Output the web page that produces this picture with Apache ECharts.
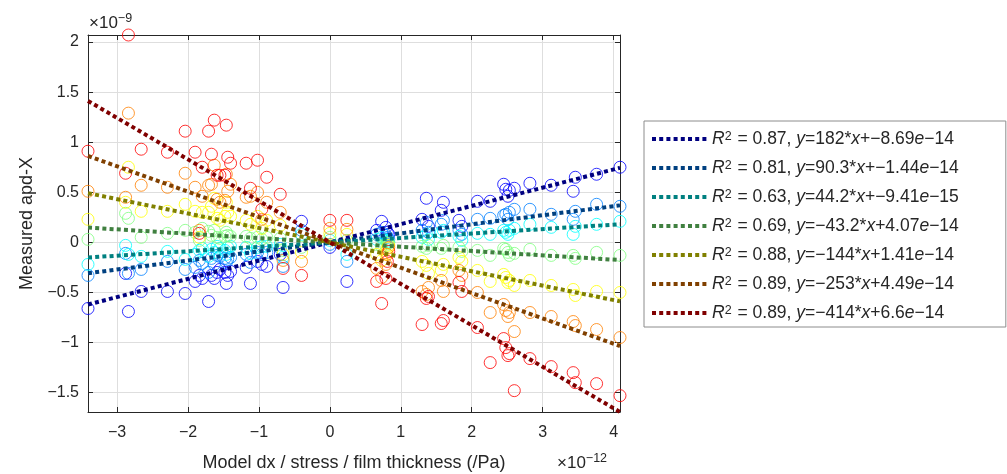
<!DOCTYPE html>
<html>
<head>
<meta charset="utf-8">
<script src="https://cdn.jsdelivr.net/npm/echarts@6/dist/echarts.min.js"></script>
<style>
html, body { margin: 0; padding: 0; background: #ffffff; }
#chart { width: 1007px; height: 474px; }
</style>
</head>
<body>
<div id="chart"></div>
<script>
// Model displacement per stress per film thickness, in units of 1e-12 /Pa
const modelX = [
  -3.41, -2.88, -2.84, -2.66, -2.29, -2.04, -1.90, -1.84, -1.80, -1.71,
  -1.67, -1.63, -1.59, -1.55, -1.48, -1.46, -1.44, -1.40, -1.18, -1.12,
  -1.02, -0.96, -0.89, -0.70, -0.66, -0.40, 0.00, 0.24, 0.66, 0.73,
  0.79, 0.81, 0.83, 1.30, 1.36, 1.39, 1.57, 1.60, 1.82, 1.86,
  2.08, 2.26, 2.45, 2.48, 2.51, 2.53, 2.60, 2.82, 3.12, 3.43,
  3.46, 3.76, 4.09
];

// Measured apd-X, in units of 1e-9, one array per group
const measBlue = [
  -0.66, -0.31, -0.69, -0.49, -0.49, -0.51, -0.39, -0.33, -0.36, -0.59,
  -0.33, -0.36, -0.30, -0.27, -0.30, -0.41, -0.33, -0.29, -0.25, -0.41,
  -0.19, -0.22, -0.24, -0.12, -0.45, 0.21, -0.05, -0.39, 0.12, 0.21,
  0.15, 0.10, 0.08, 0.23, 0.44, 0.16, 0.32, 0.40, 0.22, 0.16,
  0.41, 0.41, 0.58, 0.53, 0.46, 0.52, 0.54, 0.59, 0.57, 0.51,
  0.65, 0.68, 0.75
];
const measAzure = [
  -0.33, -0.11, -0.31, -0.27, -0.19, -0.27, -0.25, -0.18, -0.21, -0.30,
  -0.16, -0.22, -0.13, -0.14, -0.16, -0.20, -0.17, -0.15, -0.12, -0.20,
  -0.10, -0.12, -0.10, -0.06, -0.24, 0.12, -0.02, -0.19, 0.08, 0.10,
  0.07, 0.05, 0.03, 0.12, 0.20, 0.10, 0.18, 0.22, 0.12, 0.08,
  0.23, 0.24, 0.27, 0.28, 0.23, 0.30, 0.33, 0.33, 0.28, 0.23,
  0.31, 0.38, 0.36
];
const measCyan = [
  -0.22, -0.03, -0.12, -0.14, -0.09, -0.17, -0.12, -0.08, -0.06, -0.14,
  -0.07, -0.10, -0.04, -0.06, -0.08, -0.12, -0.05, -0.04, -0.05, -0.11,
  -0.05, -0.04, -0.04, -0.02, -0.15, 0.08, 0.02, -0.12, 0.03, 0.05,
  0.02, 0.01, 0.00, 0.05, 0.08, 0.03, 0.10, 0.12, 0.06, 0.02,
  0.09, 0.08, 0.12, 0.10, 0.08, 0.12, 0.14, 0.18, 0.15, 0.08,
  0.16, 0.18, 0.21
];
const measGreen = [
  0.03, 0.29, 0.24, 0.05, 0.09, 0.12, 0.10, 0.02, 0.14, 0.11,
  0.07, 0.12, 0.05, 0.04, 0.06, 0.10, 0.07, 0.06, 0.06, 0.04,
  0.05, 0.03, 0.05, 0.04, -0.08, -0.05, 0.05, 0.02, -0.02, -0.04,
  -0.03, -0.01, 0.00, -0.04, -0.06, -0.03, -0.06, -0.03, -0.05, -0.09,
  -0.08, -0.13, -0.06, -0.07, -0.10, -0.13, -0.11, -0.07, -0.13, -0.13,
  -0.16, -0.10, -0.13
];
const measYellow = [
  0.23, 0.40, 0.75, 0.31, 0.31, 0.38, 0.31, 0.05, 0.30, 0.30,
  0.36, 0.44, 0.24, 0.22, 0.26, 0.40, 0.30, 0.26, 0.22, 0.18,
  0.26, 0.14, 0.22, 0.17, -0.12, -0.10, 0.09, 0.08, -0.12, -0.18,
  -0.12, -0.06, -0.03, -0.19, -0.23, -0.31, -0.28, -0.22, -0.15, -0.19,
  -0.28, -0.39, -0.32, -0.35, -0.40, -0.38, -0.43, -0.38, -0.43, -0.47,
  -0.53, -0.49, -0.50
];
const measOrange = [
  0.51, 0.45, 1.29, 0.57, 0.55, 0.69, 0.55, 0.12, 0.46, 0.57,
  0.58, 0.77, 0.43, 0.40, 0.42, 0.68, 0.51, 0.58, 0.45, 0.46,
  0.50, 0.23, 0.40, 0.30, -0.18, -0.19, 0.14, 0.13, -0.26, -0.35,
  -0.22, -0.12, -0.05, -0.49, -0.52, -0.45, -0.38, -0.49, -0.28, -0.33,
  -0.50, -0.70, -0.62, -0.68, -0.74, -0.70, -0.89, -0.70, -0.74, -0.79,
  -0.83, -0.87, -0.95
];
const measRed = [
  0.91, 0.69, 2.07, 0.93, 0.90, 1.11, 0.90, 0.09, 0.75, 1.11,
  0.88, 1.22, 0.67, 0.67, 0.67, 1.17, 0.85, 0.79, 0.79, 0.54,
  0.82, 0.33, 0.65, 0.48, -0.26, -0.33, 0.22, 0.22, -0.39, -0.61,
  -0.36, -0.19, -0.09, -0.82, -0.56, -0.54, -0.81, -0.78, -0.40, -0.49,
  -0.85, -1.20, -0.96, -1.05, -1.13, -1.11, -1.48, -1.16, -1.24, -1.30,
  -1.40, -1.41, -1.53
];

// Linear fits: y = slope * x + intercept (SI units)
const fitSlope = [182, 90.3, 44.2, -43.2, -144, -253, -414];
const fitIntercept = [-8.69e-14, -1.44e-14, -9.41e-15, 4.07e-14, 1.41e-14, 4.49e-14, 6.6e-14];
const fitR2 = ['0.87', '0.81', '0.63', '0.69', '0.88', '0.89', '0.89'];
const slopeText = ['182', '90.3', '44.2', '\u221243.2', '\u2212144', '\u2212253', '\u2212414'];
const interceptText = ['+\u22128.69', '+\u22121.44', '+\u22129.41', '+4.07', '+1.41', '+4.49', '+6.6'];
const interceptExpText = ['\u221214', '\u221214', '\u221215', '\u221214', '\u221214', '\u221214', '\u221214'];

const measured = [measBlue, measAzure, measCyan, measGreen, measYellow, measOrange, measRed];
const markerColors = ['#0000ff', '#0080ff', '#00ffff', '#80ff80', '#ffff00', '#ff8000', '#ff0000'];
const fitColors = ['#000080', '#004080', '#008080', '#408040', '#808000', '#804000', '#800000'];

const X_SCALE = 1e-12, Y_SCALE = 1e-9;
const xMin = Math.min(...modelX), xMax = Math.max(...modelX);
const fitY = (k, x) => (fitSlope[k] * x * X_SCALE + fitIntercept[k]) / Y_SCALE;

let allY = [];
measured.forEach(arr => { allY = allY.concat(arr); });
for (let k = 0; k < fitSlope.length; k++) { allY.push(fitY(k, xMin), fitY(k, xMax)); }
const yMin = Math.min(...allY), yMax = Math.max(...allY);

const fitNames = fitR2.map((r, k) => 'R2 = ' + r + ', y=' + slopeText[k] + '*x' + interceptText[k] + 'e' + interceptExpText[k]);
const fitRich = fitR2.map((r, k) =>
  '{i|R}{sup|2}{t| = ' + r + ', }{i|y}{t|=' + slopeText[k] + '*}{i|x}{t|' + interceptText[k] + '}{i|e}{t|' + interceptExpText[k] + '}');

const minusFmt = v => {
  const s = String(Math.round(v * 1000) / 1000);
  return s.replace('-', '\u2212');
};

const fitDash = [4, 3.2];

const series = [];
measured.forEach((arr, k) => {
  series.push({
    type: 'scatter',
    name: 'group' + k,
    data: modelX.map((x, i) => [x, arr[i]]),
    symbol: 'circle',
    symbolSize: 12,
    itemStyle: { color: 'rgba(0,0,0,0)', borderColor: markerColors[k], borderWidth: 1 },
    z: 2,
    silent: true
  });
});
fitSlope.forEach((s, k) => {
  series.push({
    type: 'line',
    name: fitNames[k],
    data: [[xMin, fitY(k, xMin)], [xMax, fitY(k, xMax)]],
    symbol: 'none',
    lineStyle: { color: fitColors[k], width: 4, type: fitDash, cap: 'butt' },
    itemStyle: { color: fitColors[k] },
    z: 3,
    silent: true
  });
});

const axisColor = '#262626';
const baseFont = 'Liberation Sans, Arial, Helvetica, sans-serif';
const legendFont = 17.5;

const chart = echarts.init(document.getElementById('chart'), null, { renderer: 'canvas' });
chart.setOption({
  animation: false,
  backgroundColor: '#ffffff',
  textStyle: { fontFamily: baseFont },
  grid: { left: 88, top: 35, right: 387, bottom: 62, containLabel: false, outerBoundsMode: 'none' },
  xAxis: [
    {
      type: 'value', min: xMin, max: xMax, splitNumber: 8,
      name: 'Model dx / stress / film thickness (/Pa)',
      nameLocation: 'middle', nameGap: 42,
      nameTextStyle: { fontSize: 18, color: axisColor, fontFamily: baseFont },
      axisLine: { show: true, onZero: false, lineStyle: { color: axisColor, width: 1 } },
      axisTick: { show: true, inside: true, length: 5, lineStyle: { color: axisColor } },
      axisLabel: { fontSize: 16, color: axisColor, margin: 13, showMinLabel: false, showMaxLabel: false, formatter: minusFmt, fontFamily: baseFont },
      splitLine: { show: true, lineStyle: { color: '#dedede', width: 1 } }
    },
    {
      type: 'value', position: 'top', min: xMin, max: xMax, splitNumber: 8,
      axisLine: { show: true, onZero: false, lineStyle: { color: axisColor, width: 1 } },
      axisTick: { show: true, inside: true, length: 5, lineStyle: { color: axisColor } },
      axisLabel: { show: false },
      splitLine: { show: false }
    }
  ],
  yAxis: [
    {
      type: 'value', min: yMin, max: yMax, splitNumber: 8,
      name: 'Measured apd-X',
      nameLocation: 'middle', nameGap: 48,
      nameTextStyle: { fontSize: 18, color: axisColor, fontFamily: baseFont },
      axisLine: { show: true, onZero: false, lineStyle: { color: axisColor, width: 1 } },
      axisTick: { show: true, inside: true, length: 5, lineStyle: { color: axisColor } },
      axisLabel: { fontSize: 16, color: axisColor, margin: 9, showMinLabel: false, showMaxLabel: false, formatter: minusFmt, fontFamily: baseFont },
      splitLine: { show: true, lineStyle: { color: '#dedede', width: 1 } }
    },
    {
      type: 'value', position: 'right', min: yMin, max: yMax, splitNumber: 8,
      axisLine: { show: true, onZero: false, lineStyle: { color: axisColor, width: 1 } },
      axisTick: { show: true, inside: true, length: 5, lineStyle: { color: axisColor } },
      axisLabel: { show: false },
      splitLine: { show: false }
    }
  ],
  legend: {
    data: fitNames,
    orient: 'vertical',
    left: 644, top: 121,
    padding: [9, 47, 5, 6],
    itemGap: 11,
    itemWidth: 55, itemHeight: 14,
    backgroundColor: '#ffffff',
    borderColor: '#8c8c8c', borderWidth: 1, borderRadius: 0,
    selectedMode: false,
    itemStyle: { opacity: 0 },
    lineStyle: { width: 4, type: fitDash, cap: 'butt' },
    formatter: name => fitRich[fitNames.indexOf(name)],
    textStyle: {
      fontSize: legendFont, color: axisColor, fontFamily: baseFont, lineHeight: 18,
      rich: {
        t: { fontSize: legendFont, lineHeight: 18, color: axisColor, fontFamily: baseFont },
        i: { fontSize: legendFont, lineHeight: 18, color: axisColor, fontStyle: 'italic', fontFamily: baseFont },
        sup: { fontSize: 12.5, lineHeight: 8, color: axisColor, verticalAlign: 'top', fontFamily: baseFont, padding: [0, 1, 0, 0] }
      }
    }
  },
  graphic: [
    {
      type: 'text', left: 89, top: 12,
      style: {
        text: '{a|\u00d710}{b|\u22129}',
        rich: {
          a: { fontSize: 17, lineHeight: 22, fill: axisColor, fontFamily: baseFont },
          b: { fontSize: 12.5, lineHeight: 8, fill: axisColor, fontFamily: baseFont, verticalAlign: 'top' }
        }
      }
    },
    {
      type: 'text', left: 557, top: 452,
      style: {
        text: '{a|\u00d710}{b|\u221212}',
        rich: {
          a: { fontSize: 17, lineHeight: 22, fill: axisColor, fontFamily: baseFont },
          b: { fontSize: 12.5, lineHeight: 8, fill: axisColor, fontFamily: baseFont, verticalAlign: 'top' }
        }
      }
    }
  ],
  series: series
});
</script>
</body>
</html>
